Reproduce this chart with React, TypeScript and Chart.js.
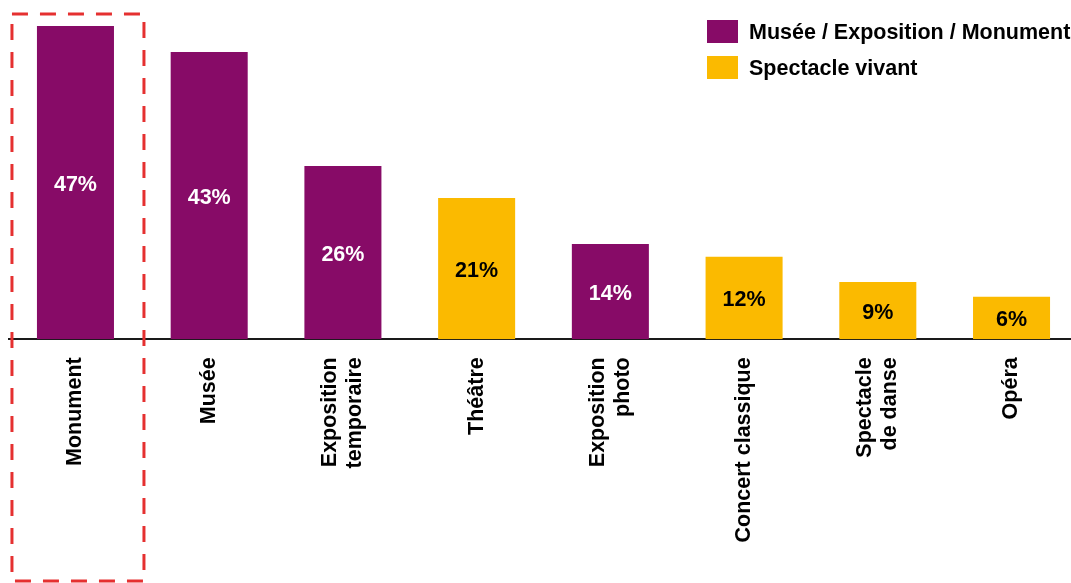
import React, { useEffect, useRef } from "react";
import { Chart, registerables } from "chart.js";

Chart.register(...registerables);

// ---- Data ----
const categories: string[][] = [
  ["Monument"],
  ["Musée"],
  ["Exposition", "temporaire"],
  ["Théâtre"],
  ["Exposition", "photo"],
  ["Concert classique"],
  ["Spectacle", "de danse"],
  ["Opéra"],
];
const museumValues: (number | null)[] = [47, 43.1, 26, null, 14.3, null, null, null];
const spectacleValues: (number | null)[] = [null, null, null, 21.2, null, 12.4, 8.6, 6.4];
const seriesNames = ["Musée / Exposition / Monument", "Spectacle vivant"];
const seriesColors = ["#870B67", "#FBBA00"];
const valueLabelColors = ["#FFFFFF", "#000000"];
const highlightedCategory = 0;

const FONT = "'Liberation Sans', Arial, Helvetica, sans-serif";
const FONT_SIZE = 21.5;

const valueLabelPlugin = {
  id: "valueLabels",
  afterDatasetsDraw(chart: any) {
    const ctx = chart.ctx;
    ctx.save();
    ctx.font = `bold ${FONT_SIZE}px ${FONT}`;
    ctx.textAlign = "center";
    ctx.textBaseline = "middle";
    chart.data.datasets.forEach((ds: any, di: number) => {
      const meta = chart.getDatasetMeta(di);
      meta.data.forEach((el: any, i: number) => {
        const v = ds.data[i];
        if (v === null || v === undefined) return;
        ctx.fillStyle = valueLabelColors[di];
        ctx.fillText(`${Math.round(v)}%`, el.x, (el.y + el.base) / 2 + 2.5);
      });
    });
    ctx.restore();
  },
};

const categoryLabelPlugin = {
  id: "categoryLabels",
  afterDraw(chart: any) {
    const ctx = chart.ctx;
    const xs = chart.scales.x;
    const lineHeight = 25;
    const anchorY = chart.chartArea.bottom + 18;
    ctx.save();
    ctx.font = `bold ${FONT_SIZE}px ${FONT}`;
    ctx.fillStyle = "#000000";
    ctx.textAlign = "right";
    ctx.textBaseline = "middle";
    categories.forEach((lines, i) => {
      const cx = xs.getPixelForValue(i);
      lines.forEach((line, j) => {
        const off = (j - (lines.length - 1) / 2) * lineHeight;
        ctx.save();
        ctx.translate(cx + off, anchorY);
        ctx.rotate(-Math.PI / 2);
        ctx.fillText(line, 0, 0);
        ctx.restore();
      });
    });
    ctx.restore();
  },
};

const legendPlugin = {
  id: "customLegend",
  afterDraw(chart: any) {
    const ctx = chart.ctx;
    ctx.save();
    ctx.font = `bold ${FONT_SIZE}px ${FONT}`;
    ctx.textAlign = "left";
    ctx.textBaseline = "middle";
    chart.data.datasets.forEach((ds: any, di: number) => {
      const y = 20 + di * 36;
      ctx.fillStyle = ds.backgroundColor;
      ctx.fillRect(707, y, 31, 23);
      ctx.fillStyle = "#000000";
      ctx.fillText(ds.label, 749, y + 13);
    });
    ctx.restore();
  },
};

const highlightPlugin = {
  id: "highlight",
  afterDraw(chart: any) {
    const ctx = chart.ctx;
    const xs = chart.scales.x;
    const cx = xs.getPixelForValue(highlightedCategory);
    ctx.save();
    ctx.strokeStyle = "#E53030";
    ctx.lineWidth = 3;
    ctx.setLineDash([16, 12]);
    ctx.strokeRect(cx - 63.5, 14, 132, 567);
    ctx.restore();
  },
};

export default function App() {
  const canvasRef = useRef<HTMLCanvasElement | null>(null);

  useEffect(() => {
    if (!canvasRef.current) return;
    const chart = new Chart(canvasRef.current, {
      type: "bar",
      data: {
        labels: categories.map((c) => c.join(" ")),
        datasets: [
          {
            label: seriesNames[0],
            data: museumValues,
            backgroundColor: seriesColors[0],
            borderWidth: 0,
          },
          {
            label: seriesNames[1],
            data: spectacleValues,
            backgroundColor: seriesColors[1],
            borderWidth: 0,
          },
        ],
      },
      options: {
        responsive: false,
        animation: false,
        devicePixelRatio: 1,
        skipNull: true,
        categoryPercentage: 1,
        barPercentage: 0.576,
        layout: { padding: { left: 8.6, right: 21.6, top: 6, bottom: 0 } },
        plugins: {
          legend: { display: false },
          tooltip: { enabled: false },
        },
        scales: {
          x: {
            type: "category",
            grid: { display: false, drawTicks: false },
            ticks: { display: false },
            border: { display: true, color: "#1a1a1a", width: 2 },
            afterFit: (s: any) => {
              s.height = 243.7;
            },
          },
          y: {
            display: false,
            min: 0,
            max: 50,
          },
        },
      } as any,
      plugins: [valueLabelPlugin, categoryLabelPlugin, legendPlugin, highlightPlugin],
    });
    return () => chart.destroy();
  }, []);

  return (
    <div
      style={{
        position: "absolute",
        left: 0,
        top: 0,
        width: 1071,
        height: 583,
        overflow: "hidden",
        background: "#ffffff",
      }}
    >
      <canvas ref={canvasRef} width={1100} height={583} style={{ display: "block" }} />
    </div>
  );
}
